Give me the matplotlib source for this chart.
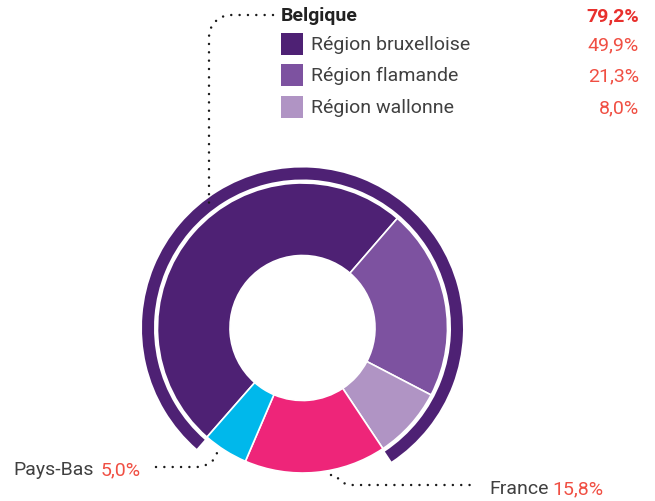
import numpy as np
import matplotlib
matplotlib.use("Agg")
from matplotlib import pyplot as plt

# Data
regions = ["Région bruxelloise", "Région flamande", "Région wallonne"]
region_values = [49.9, 21.3, 8.0]
region_colors = ["#4e2174", "#7d52a0", "#b094c4"]
others = ["France", "Pays-Bas"]
other_values = [15.8, 5.0]
other_colors = ["#ee2579", "#00b8eb"]
belgique_total = 79.2

plt.rcParams["font.family"] = ["Roboto", "DejaVu Sans"]
plt.rcParams["lines.scale_dashes"] = False

W, H = 655, 502
fig = plt.figure(figsize=(W / 100, H / 100), dpi=100)
ax = fig.add_axes([0, 0, 1, 1])

def Y(y):
    # pixel row (from top) -> data y
    return H - y

cx, cy = 302.5, Y(329)
start = 228.8

# inner donut
ax.pie(region_values + other_values, colors=region_colors + other_colors,
       radius=145, center=(cx, cy), startangle=start, counterclock=False,
       wedgeprops=dict(width=72.5, edgecolor="white", linewidth=1.2))

# outer ring for Belgium
ax.pie([belgique_total, 100 - belgique_total], colors=["#4e2174", "none"],
       radius=160.5, center=(cx, cy), startangle=start, counterclock=False,
       wedgeprops=dict(width=12, linewidth=0))

ax.set_xlim(0, W)
ax.set_ylim(0, H)
ax.set_aspect("equal")
ax.axis("off")

dark = "#404040"
red_bold = "#e8302d"
red = "#f04f43"
dots = dict(color="#1a1a1a", linewidth=1.8, linestyle=(0, (0.01, 6)),
            dash_capstyle="round", solid_capstyle="round")

def corner(x0, y0, r, a0, a1, n=12):
    t = np.radians(np.linspace(a0, a1, n))
    return x0 + r * np.cos(t), y0 + r * np.sin(t)

# leader Belgique
r = 22
ax_, ay_ = corner(209 + r, Y(16) - r, r, 90, 180)
xs = np.concatenate([[273], ax_, [209]])
ys = np.concatenate([[Y(16)], ay_, [Y(205)]])
ax.plot(xs, ys, **dots)

# leader Pays-Bas
r = 25
bx, by = corner(196, Y(468) + r, r, -90, -45)
xs = np.concatenate([[156], bx, [218]])
ys = np.concatenate([[Y(468)], by, [Y(452)]])
ax.plot(xs, ys, **dots)

# leader France
r = 18
fx, fy = corner(352, Y(486) + r, r, -150, -90)
xs = np.concatenate([[331], fx, [473]])
ys = np.concatenate([[Y(476)], fy, [Y(486)]])
ax.plot(xs, ys, **dots)

# legend block
ax.text(281, Y(16), "Belgique", fontsize=14, fontweight="bold", color="#222222",
        ha="left", va="center")
ax.text(639, Y(16), f"{belgique_total:.1f}%".replace(".", ","), fontsize=14,
        fontweight="bold", color=red_bold, ha="right", va="center")
row_y = [45, 76, 108]
for name, val, col, yy in zip(regions, region_values, region_colors, row_y):
    ax.bar(292, 22, width=22, bottom=Y(yy) - 11, color=col, linewidth=0)
    ax.text(311, Y(yy), name, fontsize=14, color=dark,
            ha="left", va="center")
    ax.text(639, Y(yy), f"{val:.1f}%".replace(".", ","), fontsize=14,
            color=red, ha="right", va="center")

# bottom labels
ax.text(13, Y(470), others[1], fontsize=14, color=dark,
        ha="left", va="center")
ax.text(101, Y(470), f"{other_values[1]:.1f}%".replace(".", ","), fontsize=14,
        color=red, ha="left", va="center")
ax.text(489, Y(489), others[0], fontsize=14, color=dark,
        ha="left", va="center")
ax.text(552, Y(489), f"{other_values[0]:.1f}%".replace(".", ","), fontsize=14,
        color=red, ha="left", va="center")

plt.savefig("out.png", dpi=100)
